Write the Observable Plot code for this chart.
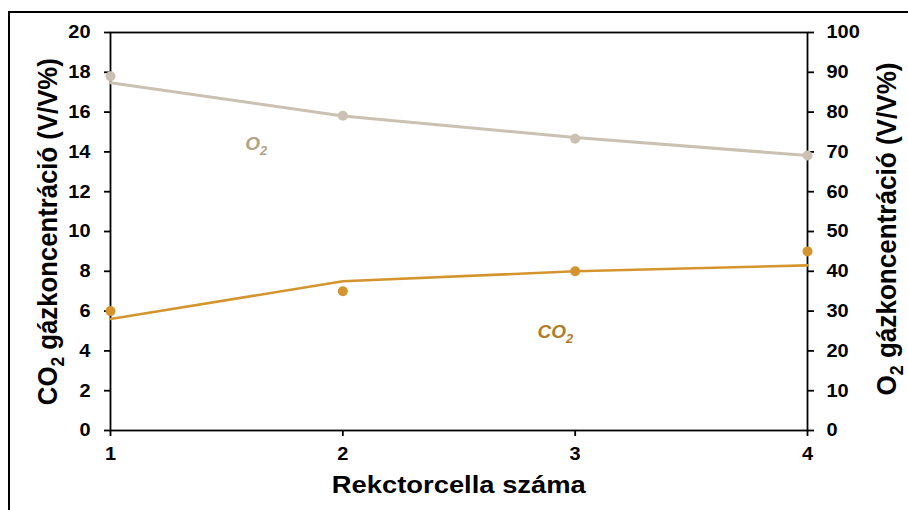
<!DOCTYPE html>
<html><head><meta charset="utf-8">
<script src="https://cdn.jsdelivr.net/npm/d3@7"></script>
<script src="https://cdn.jsdelivr.net/npm/@observablehq/plot@0.6"></script>
<style>
body{margin:0;background:#fff}
#chart svg{font-family:"Liberation Sans",Arial,sans-serif;overflow:visible}
</style>
</head><body><div id="chart"></div>
<script>
// Data
const reactors = [1, 2, 3, 4];
const co2Measured = [6.0, 7.0, 8.0, 9.0];     // V/V%, left axis
const co2Fit = [5.6, 7.5, 8.0, 8.3];          // fitted curve, left axis
const o2Measured = [89.0, 79.1, 73.3, 69.1];  // V/V%, right axis
const o2Fit = [87.4, 79.0, 73.6, 69.1];       // fitted curve, right axis
const leftTicks = [0, 2, 4, 6, 8, 10, 12, 14, 16, 18, 20];
const rightTicks = [0, 10, 20, 30, 40, 50, 60, 70, 80, 90, 100];
const xTicks = [1, 2, 3, 4];
const RATIO = 5; // right axis value = left axis value * 5

const co2Color = "#d4952f", co2Text = "#b07c27";
const o2Color = "#cbc1b2", o2Text = "#b3a385";

const co2Pts = reactors.map((r, i) => ({x: r, y: co2Measured[i]}));
const co2Line = reactors.map((r, i) => ({x: r, y: co2Fit[i]}));
const o2Pts = reactors.map((r, i) => ({x: r, y: o2Measured[i] / RATIO}));
const o2Line = reactors.map((r, i) => ({x: r, y: o2Fit[i] / RATIO}));

const tickFont = 18.5;
const chart = Plot.plot({
  width: 908, height: 510,
  marginLeft: 110, marginRight: 101, marginTop: 32, marginBottom: 80,
  style: {fontFamily: "'Liberation Sans', Arial, sans-serif", fontSize: tickFont + "px", fontWeight: "bold", color: "#000", background: "#fff"},
  x: {domain: [1, 4], label: null},
  y: {domain: [0, 20], label: null},
  marks: [
    Plot.frame({stroke: "#000", strokeWidth: 1.8}),
    Plot.axisX(xTicks, {tickSize: 6, tickPadding: 10, tickFormat: d => String(d), label: null, strokeWidth: 1.8, fontSize: tickFont, fontWeight: "bold", fill: "#000"}),
    Plot.axisY(leftTicks, {anchor: "left", tickSize: 6, tickPadding: 14, label: null, strokeWidth: 1.8, fontSize: tickFont, fontWeight: "bold", fill: "#000"}),
    Plot.axisY(rightTicks.map(v => v / RATIO), {anchor: "right", tickSize: 6, tickPadding: 13, tickFormat: d => String(Math.round(d * RATIO)), label: null, strokeWidth: 1.8, fontSize: tickFont, fontWeight: "bold", fill: "#000"}),
    Plot.line(o2Line, {x: "x", y: "y", stroke: o2Color, strokeWidth: 3}),
    Plot.dot(o2Pts, {x: "x", y: "y", fill: o2Color, r: 5}),
    Plot.line(co2Line, {x: "x", y: "y", stroke: co2Color, strokeWidth: 2.6}),
    Plot.dot(co2Pts, {x: "x", y: "y", fill: co2Color, r: 5})
  ]
});
document.getElementById("chart").appendChild(chart);

const svg = d3.select(chart);
const sx = chart.scale("x"), sy = chart.scale("y");

// tick labels: size and the slightly wide glyphs of the reference
svg.selectAll('g[aria-label$="tick label"]').style("font-size", tickFont + "px").style("font-weight", "bold");
svg.selectAll('g[aria-label$="tick label"] text').each(function () {
  const el = this;
  const bb = el.getBBox();
  const anchor = getComputedStyle(el).textAnchor;
  const cx = anchor === "end" ? bb.x + bb.width : anchor === "start" ? bb.x : bb.x + bb.width / 2;
  const old = el.getAttribute("transform") || "";
  el.setAttribute("transform", `${old} translate(${cx},0) scale(1.08,1) translate(${-cx},0)`);
});

// outer frame of the figure
svg.insert("rect", ":first-child").attr("x", 9).attr("y", 12).attr("width", 1000).attr("height", 600)
  .attr("fill", "none").attr("stroke", "#000").attr("stroke-width", 2);

function subText(g, parts, size) {
  parts.forEach(p => {
    const t = g.append("tspan").text(p.t);
    if (p.sub) t.attr("font-size", size * 0.68).attr("dy", size * 0.24);
    else if (p.after) t.attr("dy", -size * 0.24);
  });
}

// axis titles
const titleSize = 23;
const lt = svg.append("text").attr("transform", "translate(57,231.7) scale(1.18,1) rotate(-90)")
  .attr("text-anchor", "middle").attr("font-size", titleSize).attr("font-weight", "bold").attr("fill", "#000")
  .attr("textLength", 347).attr("lengthAdjust", "spacingAndGlyphs");
subText(lt, [{t: "CO"}, {t: "2", sub: true}, {t: " gázkoncentráció (V/V%)", after: true}], titleSize);

const rt = svg.append("text").attr("transform", "translate(896,229) scale(1.18,1) rotate(-90)")
  .attr("text-anchor", "middle").attr("font-size", titleSize).attr("font-weight", "bold").attr("fill", "#000")
  .attr("textLength", 333).attr("lengthAdjust", "spacingAndGlyphs");
subText(rt, [{t: "O"}, {t: "2", sub: true}, {t: " gázkoncentráció (V/V%)", after: true}], titleSize);

svg.append("text").attr("x", 458.8).attr("y", 493.3).attr("text-anchor", "middle")
  .attr("font-size", titleSize).attr("font-weight", "bold").attr("fill", "#000")
  .attr("textLength", 254).attr("lengthAdjust", "spacingAndGlyphs").text("Rekctorcella száma");

// series annotations
const annSize = 19;
const o2Label = svg.append("text").attr("x", sx.apply(1.582)).attr("y", sy.apply(14.07)).attr("text-anchor", "start")
  .attr("font-size", annSize).attr("font-weight", "bold").attr("font-style", "italic").attr("fill", o2Text);
subText(o2Label, [{t: "O"}, {t: "2", sub: true}], annSize);
const co2Label = svg.append("text").attr("x", sx.apply(2.84)).attr("y", sy.apply(4.62)).attr("text-anchor", "start")
  .attr("font-size", annSize).attr("font-weight", "bold").attr("font-style", "italic").attr("fill", co2Text);
subText(co2Label, [{t: "CO"}, {t: "2", sub: true}], annSize);
</script>
</body></html>
